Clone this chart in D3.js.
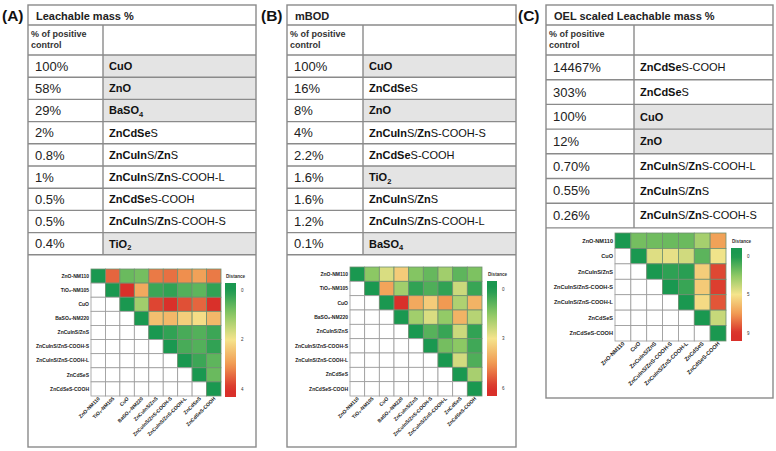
<!DOCTYPE html>
<html><head><meta charset="utf-8">
<script src="https://cdn.jsdelivr.net/npm/d3@7"></script>
<style>body{margin:0;background:#fff} svg{display:block} text{font-family:"Liberation Sans",Arial,sans-serif}</style>
</head><body><svg id="fig" width="776" height="451"></svg>
<script>
// ---------------- data ----------------
const panelLabels = ["(A)","(B)","(C)"];
const titles = ["Leachable mass %","mBOD","OEL scaled Leachable mass %"];
const headerLines = ["% of positive","control"];

const pctA   = ["100%","58%","29%","2%","0.8%","1%","0.5%","0.5%","0.4%"];
const namesA = ["CuO","ZnO","BaSO4","ZnCdSeS","ZnCuInS/ZnS","ZnCuInS/ZnS-COOH-L","ZnCdSeS-COOH","ZnCuInS/ZnS-COOH-S","TiO2"];
const pctB   = ["100%","16%","8%","4%","2.2%","1.6%","1.6%","1.2%","0.1%"];
const namesB = ["CuO","ZnCdSeS","ZnO","ZnCuInS/ZnS-COOH-S","ZnCdSeS-COOH","TiO2","ZnCuInS/ZnS","ZnCuInS/ZnS-COOH-L","BaSO4"];
const pctC   = ["14467%","303%","100%","12%","0.70%","0.55%","0.26%"];
const namesC = ["ZnCdSeS-COOH","ZnCdSeS","CuO","ZnO","ZnCuInS/ZnS-COOH-L","ZnCuInS/ZnS","ZnCuInS/ZnS-COOH-S"];
const controls = ["CuO","ZnO","BaSO4","TiO2"];

const hmLabels9 = ["ZnO-NM110","TiO₂-NM105","CuO","BaSO₄-NM220","ZnCuInS/ZnS","ZnCuInS/ZnS-COOH-S","ZnCuInS/ZnS-COOH-L","ZnCdSeS","ZnCdSeS-COOH"];
const hmLabels7 = ["ZnO-NM110","CuO","ZnCuInS/ZnS","ZnCuInS/ZnS-COOH-S","ZnCuInS/ZnS-COOH-L","ZnCdSeS","ZnCdSeS-COOH"];

// upper-triangle distances (row i starts at column i)
const distA = [
 [0, 3.5, 0.7, 0.8, 3.3, 3.4, 3.1, 2.9, 3.3],
 [0, 4.0, 2.8, 0.3, 0.2, 0.5, 0.6, 0.2],
 [0, 1.2, 3.8, 4.0, 3.7, 3.5, 4.0],
 [0, 2.5, 2.6, 2.3, 2.1, 2.6],
 [0, 0.2, 0.4, 0.5, 0.3],
 [0, 0.4, 0.5, 0.2],
 [0, 0.3, 0.6],
 [0, 0.7],
 [0]];
const distB = [
 [0, 1.5, 2.6, 3.5, 1.4, 1.0, 1.8, 0.9, 1.3],
 [0, 4.3, 1.8, 0.3, 0.7, 0.3, 2.4, 0.4],
 [0, 6.0, 4.2, 3.5, 4.5, 2.0, 4.0],
 [0, 1.8, 2.6, 1.6, 4.0, 2.1],
 [0, 0.8, 0.4, 2.4, 0.3],
 [0, 1.2, 1.5, 0.5],
 [0, 2.5, 0.7],
 [0, 1.9],
 [0]];
const distC = [
 [0, 1.8, 1.7, 1.6, 1.6, 2.8, 6.5],
 [0, 4.0, 4.2, 3.7, 1.3, 4.4],
 [0, 0.4, 0.3, 5.2, 8.5],
 [0, 0.6, 5.3, 8.7],
 [0, 4.8, 8.2],
 [0, 3.5],
 [0]];
const distMax = [4, 6, 9];
const legendLabels = [["0","2","4"],["0","3","6"],["0","5","9"]];

// ---------------- rich text for names ----------------
const rich = {
 "CuO": [["CuO","b"]],
 "ZnO": [["ZnO","b"]],
 "BaSO4": [["BaSO","b"],["4","sub"]],
 "TiO2": [["TiO","b"],["2","sub"]],
 "ZnCdSeS": [["ZnCdSe","b"],["S","r"]],
 "ZnCdSeS-COOH": [["ZnCdSe","b"],["S-COOH","r"]],
 "ZnCuInS/ZnS": [["ZnCuIn","b"],["S/","r"],["Zn","b"],["S","r"]],
 "ZnCuInS/ZnS-COOH-L": [["ZnCuIn","b"],["S/","r"],["Zn","b"],["S-COOH-L","r"]],
 "ZnCuInS/ZnS-COOH-S": [["ZnCuIn","b"],["S/","r"],["Zn","b"],["S-COOH-S","r"]]
};

const svg = d3.select("#fig");
const LINE = "#8a8a8a";

const panels = [
 {pct:pctA, names:namesA, labels:hmLabels9, dist:distA,
  px:2, x0:28, x1:256, split:103, rowsTop:55, rowH:22.2, boxBottom:447,
  grid:{x:91, y:269, w:130, h:127}, leg:{x:225, w:11, y0:283, y1:397, t0:290, t1:389}, fs:5},
 {pct:pctB, names:namesB, labels:hmLabels9, dist:distB,
  px:261, x0:287, x1:516, split:363, rowsTop:55, rowH:22.2, boxBottom:447,
  grid:{x:350, y:267, w:132, h:129}, leg:{x:487, w:10, y0:281, y1:396, t0:289, t1:388}, fs:5},
 {pct:pctC, names:namesC, labels:hmLabels7, dist:distC,
  px:518, x0:546, x1:773, split:634, rowsTop:55, rowH:24.7, boxBottom:398,
  grid:{x:615, y:233, w:111, h:108}, leg:{x:731, w:11, y0:248, y1:341, t0:256, t1:333}, fs:5.6}
];

const defs = svg.append("defs");

panels.forEach((p, pi) => {
  const g = svg.append("g");
  const n = p.pct.length;
  const rowsBottom = p.rowsTop + n * p.rowH;
  const yRow = d3.scaleLinear().domain([0, n]).range([p.rowsTop, rowsBottom]);

  // panel label
  g.append("text").attr("x", p.px).attr("y", 21).attr("font-size", 15.5).attr("font-weight", "bold")
    .attr("fill", "#111").text(panelLabels[pi]);

  // gray control cells
  g.selectAll("rect.ctrl").data(p.names.map((d,i)=>({d,i})).filter(o=>controls.includes(o.d)))
    .join("rect").attr("x", p.split).attr("y", o=>yRow(o.i)).attr("width", p.x1 - p.split)
    .attr("height", p.rowH).attr("fill", "#e4e4e4");

  // outer box
  g.append("rect").attr("x", p.x0).attr("y", 5).attr("width", p.x1 - p.x0).attr("height", p.boxBottom - 5)
    .attr("fill", "none").attr("stroke", LINE).attr("stroke-width", 1.4);
  // horizontal lines
  const hl = [25, 55].concat(d3.range(1, n + 1).map(i => yRow(i)));
  g.selectAll("line.h").data(hl).join("line").attr("x1", p.x0).attr("x2", p.x1)
    .attr("y1", d=>d).attr("y2", d=>d).attr("stroke", LINE).attr("stroke-width", 1.4);
  // column split
  g.append("line").attr("x1", p.split).attr("x2", p.split).attr("y1", 25).attr("y2", rowsBottom)
    .attr("stroke", LINE).attr("stroke-width", 1.4);

  // title
  g.append("text").attr("x", p.x0 + 8).attr("y", 19.5).attr("font-size", 11).attr("font-weight", "bold")
    .attr("fill", "#222").text(titles[pi]);
  // header
  headerLines.forEach((t, k) => g.append("text").attr("x", p.x0 + 3).attr("y", 37 + k * 11)
    .attr("font-size", 9).attr("font-weight", "bold").attr("fill", "#333").text(t));

  // values
  g.selectAll("text.pct").data(p.pct).join("text").attr("x", p.x0 + 7)
    .attr("y", (d,i)=>yRow(i) + p.rowH/2 + 4.6).attr("font-size", 13).attr("fill", "#222").text(d=>d);
  // names
  p.names.forEach((nm, i) => {
    const t = g.append("text").attr("x", p.split + 6).attr("y", yRow(i) + p.rowH/2 + 3.9)
      .attr("font-size", 11).attr("fill", "#111");
    (rich[nm] || [[nm,"r"]]).forEach(([s, st]) => {
      const ts = t.append("tspan").text(s);
      if (st === "b") ts.attr("font-weight", "bold");
      if (st === "sub") ts.attr("font-weight", "bold").attr("font-size", 7.5).attr("dy", 2.5);
    });
  });

  // ---------------- heatmap ----------------
  const max = distMax[pi];
  const color = d3.scaleLinear().domain([0, .25, .5, .75, 1].map(t => t * max))
    .range(["#1a9850", "#8cc864", "#f5e48c", "#f19a52", "#d9302a"]).clamp(true);
  const m = p.labels.length;
  const xB = d3.scaleBand().domain(d3.range(m)).range([p.grid.x, p.grid.x + p.grid.w]);
  const yB = d3.scaleBand().domain(d3.range(m)).range([p.grid.y, p.grid.y + p.grid.h]);
  const cells = [];
  for (let i = 0; i < m; i++) for (let j = 0; j < m; j++)
    cells.push({i, j, v: j >= i ? p.dist[i][j - i] : null});
  g.selectAll("rect.cell").data(cells).join("rect")
    .attr("x", d=>xB(d.j)).attr("y", d=>yB(d.i)).attr("width", xB.bandwidth()).attr("height", yB.bandwidth())
    .attr("fill", d=> d.v === null ? "#fff" : color(d.v))
    .attr("stroke", d=> d.v === null ? "#9a9a9a" : "#6f8f70").attr("stroke-width", 0.8);

  // y labels
  g.selectAll("text.yl").data(p.labels).join("text")
    .attr("x", p.grid.x - 2).attr("y", (d,i)=>yB(i) + yB.bandwidth()/2 + p.fs*0.35)
    .attr("text-anchor", "end").attr("font-size", p.fs).attr("font-weight", "bold").attr("fill", "#222").text(d=>d);
  // x labels
  g.selectAll("text.xl").data(p.labels).join("text")
    .attr("transform", (d,i)=>`translate(${xB(i) + xB.bandwidth()/2 + 2},${p.grid.y + p.grid.h + 3}) rotate(-45)`)
    .attr("text-anchor", "end").attr("font-size", p.fs).attr("font-weight", "bold").attr("fill", "#222").text(d=>d);

  // legend
  const L = p.leg;
  const ly = d3.scaleLinear().domain([0, max]).range([L.t0, L.t1]);
  const gid = "grad" + pi;
  const grad = defs.append("linearGradient").attr("id", gid).attr("x1", 0).attr("x2", 0).attr("y1", 0).attr("y2", 1);
  d3.range(0, 1.0001, 0.05).forEach(t => {
    const yy = L.y0 + t * (L.y1 - L.y0);
    grad.append("stop").attr("offset", t).attr("stop-color", color(ly.invert(yy)));
  });
  g.append("rect").attr("x", L.x).attr("y", L.y0).attr("width", L.w).attr("height", L.y1 - L.y0)
    .attr("fill", `url(#${gid})`);
  g.append("text").attr("x", L.x + 1).attr("y", L.y0 - 5).attr("font-size", 4.6).attr("font-weight", "bold")
    .attr("fill", "#333").text("Distance");
  const tl = legendLabels[pi];
  const tp = d3.scaleLinear().domain([0, tl.length - 1]).range([L.t0, L.t1]);
  g.selectAll("text.lt").data(tl).join("text").attr("x", L.x + L.w + 5).attr("y", (d,i)=>tp(i) + 1.5)
    .attr("font-size", 4.5).attr("fill", "#333").text(d=>d);
});
</script>
</body></html>
